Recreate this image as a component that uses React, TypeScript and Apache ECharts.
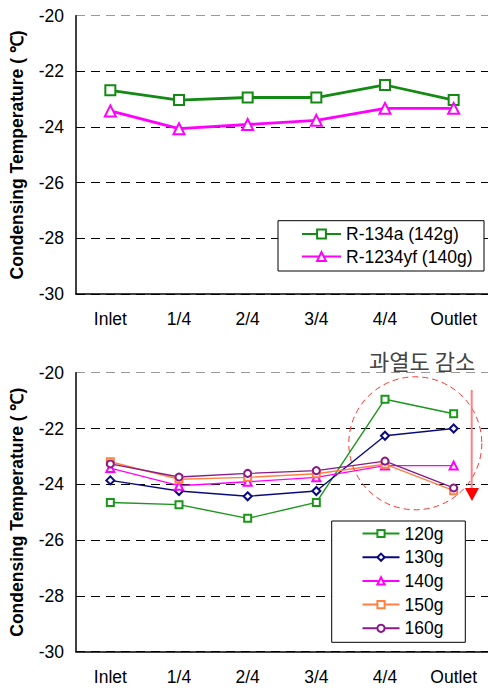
import React, { useEffect, useRef } from "react";
import * as echarts from "echarts";

// Categories (positions along the condenser)
const positions = ["Inlet", "1/4", "2/4", "3/4", "4/4", "Outlet"];

// Y axis range (°C)
const yMin = -30;
const yMax = -20;
const yStep = 2;

// Top chart: refrigerant comparison
const r134a = [-22.68, -23.03, -22.94, -22.94, -22.49, -23.03];
const r1234yf = [-23.42, -24.06, -23.91, -23.76, -23.33, -23.33];

// Bottom chart: charge amount comparison
const charge120 = [-24.65, -24.73, -25.22, -24.65, -20.95, -21.47];
const charge130 = [-23.86, -24.24, -24.43, -24.24, -22.26, -22.0];
const charge140 = [-23.42, -24.05, -23.91, -23.75, -23.33, -23.33];
const charge150 = [-23.19, -23.82, -23.75, -23.62, -23.28, -24.23];
const charge160 = [-23.27, -23.74, -23.61, -23.51, -23.17, -24.13];

const topNames = ["R-134a (142g)", "R-1234yf (140g)"];
const bottomNames = ["120g", "130g", "140g", "150g", "160g"];
const annotationText = "과열도 감소";
const yAxisTitle = "Condensing Temperature ( ℃)";

const FONT = "'Liberation Sans', Arial, sans-serif";

export default function App() {
  const ref = useRef<HTMLDivElement>(null);

  useEffect(() => {
    document.body.style.margin = "0";
    if (!ref.current) return;
    const chart = echarts.init(ref.current, undefined, { renderer: "svg" });

    const makeX = (gridIndex: number) => ({
      type: "category",
      gridIndex,
      data: positions,
      boundaryGap: true,
      axisLine: { lineStyle: { color: "#000", width: 1.5 } },
      axisTick: { inside: true, length: 6, lineStyle: { color: "#000", width: 1 } },
      axisLabel: { color: "#000", fontSize: 17.5, fontFamily: FONT, margin: 16 },
    });

    const makeY = (gridIndex: number) => ({
      type: "value",
      gridIndex,
      min: yMin,
      max: yMax,
      interval: yStep,
      name: yAxisTitle,
      nameLocation: "middle",
      nameGap: 50,
      nameTextStyle: { color: "#000", fontSize: 17.5, fontWeight: "bold", fontFamily: FONT },
      axisLine: { show: true, lineStyle: { color: "#000", width: 1.5 } },
      axisTick: { show: false },
      axisLabel: { color: "#000", fontSize: 17.5, fontFamily: FONT, margin: 12 },
      splitLine: {
        show: true,
        lineStyle: {
          color: ["#000", "#000", "#000", "#000", "#000", "#999"],
          type: [9, 6],
          width: 1,
        },
      },
    });

    const lineSeries = (
      name: string,
      data: number[],
      color: string,
      symbol: string,
      size: number,
      width: number,
      idx: number
    ) => ({
      type: "line",
      name,
      data,
      xAxisIndex: idx,
      yAxisIndex: idx,
      symbol,
      symbolSize: size,
      showAllSymbol: true,
      color,
      lineStyle: { color, width },
      itemStyle: { color, borderColor: color, borderWidth: 1.5 },
      z: 3,
    });

    const option: any = {
      animation: false,
      textStyle: { fontFamily: FONT },
      grid: [
        { left: 75, top: 15.7, width: 417, height: 278.3, containLabel: false },
        { left: 72, top: 372.7, width: 416.4, height: 279, containLabel: false },
      ],
      xAxis: [makeX(0), makeX(1)],
      yAxis: [makeY(0), makeY(1)],
      legend: [
        {
          data: topNames,
          orient: "vertical",
          left: 301,
          top: 225,
          padding: 0,
          itemWidth: 39,
          itemHeight: 11,
          itemGap: 4.5,
          itemTextGap: 4,
          textStyle: { color: "#000", fontSize: 17.5, fontFamily: FONT },
          z: 6,
        },
        {
          data: bottomNames,
          orient: "vertical",
          left: 361.5,
          top: 524.5,
          padding: 0,
          itemWidth: 37,
          itemHeight: 9,
          itemGap: 5.7,
          itemTextGap: 5,
          textStyle: { color: "#000", fontSize: 17.5, fontFamily: FONT },
          z: 6,
        },
      ],
      graphic: [
        {
          type: "rect",
          z: 5,
          shape: { x: 278, y: 220.7, width: 206, height: 50.3 },
          style: { fill: "#fff", stroke: "#000", lineWidth: 1 },
        },
        {
          type: "rect",
          z: 5,
          shape: { x: 331.7, y: 521, width: 133.6, height: 121.3 },
          style: { fill: "#fff", stroke: "#000", lineWidth: 1 },
        },
        {
          type: "text",
          z: 7,
          x: 369,
          y: 360,
          style: {
            text: annotationText,
            fill: "#444",
            fontSize: 22,
            fontFamily: "'Noto Sans CJK KR', sans-serif",
            verticalAlign: "middle",
            align: "left",
          },
        },
        {
          type: "circle",
          z: 7,
          shape: { cx: 415.3, cy: 443.3, r: 66.5 },
          style: { fill: "none", stroke: "#ff3333", lineWidth: 1, lineDash: [6, 4] },
        },
        {
          type: "line",
          z: 7,
          shape: { x1: 471.7, y1: 390, x2: 471.7, y2: 489 },
          style: { stroke: "#ff8080", lineWidth: 2 },
        },
        {
          type: "polygon",
          z: 7,
          shape: { points: [[465, 488], [479, 488], [472, 501]] },
          style: { fill: "#ff0000" },
        },
      ],
      series: [
        lineSeries(topNames[0], r134a, "#138a13", "emptyRect", 10, 2.8, 0),
        lineSeries(topNames[1], r1234yf, "#ff00ff", "emptyTriangle", 11, 2.8, 0),
        lineSeries(bottomNames[0], charge120, "#1a961a", "emptyRect", 7, 1.4, 1),
        lineSeries(bottomNames[1], charge130, "#0a0a80", "emptyDiamond", 8, 1.4, 1),
        lineSeries(bottomNames[2], charge140, "#ff00ff", "emptyTriangle", 8, 1.4, 1),
        lineSeries(bottomNames[3], charge150, "#ff8040", "emptyRect", 7, 1.4, 1),
        lineSeries(bottomNames[4], charge160, "#8a1a8a", "emptyCircle", 7, 1.4, 1),
      ],
    };

    chart.setOption(option);
    return () => chart.dispose();
  }, []);

  return <div ref={ref} style={{ width: 488, height: 688 }} />;
}
